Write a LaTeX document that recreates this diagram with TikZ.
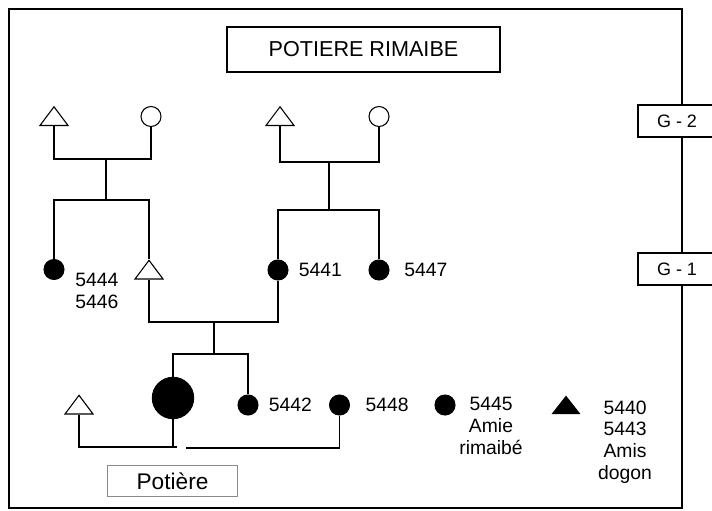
\documentclass[tikz,border=0pt]{standalone}
\usepackage{fontspec}
\setmainfont{Liberation Sans}
\usetikzlibrary{positioning,shapes.geometric}
\definecolor{boxgray}{HTML}{8A8A8A}
\tikzset{
  lnk/.style={line width=1pt, color=black},
  male/.style={isosceles triangle, shape border rotate=90, isosceles triangle stretches,
               draw, line width=0.8pt, inner sep=0pt, minimum height=14pt, minimum width=21pt,
               anchor=south},
  malek/.style={male, fill=black, minimum height=12.75pt, minimum width=20pt},
  fem/.style={circle, draw, line width=0.8pt, inner sep=0pt, minimum size=15pt},
  femk/.style={fem, fill=black},
  num/.style={font=\fontsize{14.5}{16.2}\selectfont, inner sep=0pt},
  ttl/.style={draw, line width=1pt, minimum width=204.75pt, minimum height=33.75pt,
              font=\fontsize{16.2}{19}\selectfont},
  gen/.style={draw, fill=white, line width=2pt, minimum width=58.5pt, minimum height=24pt,
              font=\fontsize{13.5}{16}\selectfont},
  potb/.style={draw=boxgray, line width=0.8pt, minimum width=98pt, minimum height=23.5pt,
               font=\fontsize{17}{20}\selectfont},
}
\begin{document}
\begin{tikzpicture}[x=0.75pt,y=-0.75pt]
  \clip (0,0) rectangle (712,510);
  \fill[white] (0,0) rectangle (712,510);
  \draw[lnk] (9,9) rectangle (682,508);

  % title and generation marks
  \node[ttl] (title) at (363.5,49.5) {POTIERE RIMAIBE};
  \node[gen] (g2) at (677,121) {G - 2};
  \node[gen] (g1) at (677,269) {G - 1};

  % G-2 (triangles placed by the middle of their base)
  \node[male] (gfA) at (54,126) {};
  \node[fem]  (gmA) at (151,116.5) {};
  \node[male] (gfB) at (280,126) {};
  \node[fem]  (gmB) at (379,116.5) {};

  % G-1
  \node[femk] (k5444) at (54,269.5) {};
  \node[male] (fath)  at (149,279.5) {};
  \node[femk] (k5441) at (278,270) {};
  \node[femk] (k5447) at (379,270) {};
  \node[num, anchor=west, align=left] (l5444) at (75,291) {5444\\5446};
  \node[num, right=7.5pt of k5441] (l5441) {5441};
  \node[num, right=11pt of k5447] (l5447) {5447};

  % ego's generation
  \node[male] (husb) at (79,414.5) {};
  \node[femk, minimum size=31pt] (pot) at (173,398) {};
  \node[femk] (k5442) at (248,405) {};
  \node[femk] (k5448) at (339.5,405) {};
  \node[femk] (k5445) at (445,405) {};
  \node[malek] (k5440) at (566,414) {};
  \node[num, right=7.5pt of k5442] (l5442) {5442};
  \node[num, right=11.5pt of k5448] (l5448) {5448};
  \node[num, align=center] (l5445) at (491,426) {5445\\Amie\\rimaibé};
  \node[num, align=center] (l5440) at (625,442) {5440\\5443\\Amis\\dogon};
  \node[potb] (potlab) at (172.5,481) {Potière};

  % left couple and children
  \coordinate (mA) at (106,159);
  \coordinate (sA) at (106,200);
  \draw[lnk] (gfA.south) |- (mA) -| (gmA.south);
  \draw[lnk] (mA) -- (sA);
  \draw[lnk] (k5444.north) |- (sA) -| (fath.north);

  % right couple and children
  \coordinate (mB) at (329,162);
  \coordinate (sB) at (329,210);
  \draw[lnk] (gfB.south) |- (mB) -| (gmB.south);
  \draw[lnk] (mB) -- (sB);
  \draw[lnk] (k5441.north) |- (sB) -| (k5447.north);

  % parents of the potter
  \coordinate (mC) at (214,322);
  \coordinate (sC) at (214,354);
  \draw[lnk] (fath.south) |- (mC) -| (k5441.south);
  \draw[lnk] (mC) -- (sC);
  \draw[lnk] (pot.north) |- (sC) -| (k5442.north);

  % potter's marriages
  \coordinate (hL) at (177,447);
  \coordinate (hR) at (186,448);
  \draw[lnk] (husb.south) |- (hL);
  \draw[lnk] (pot.south) -- (pot.south |- hL);
  \draw[lnk] (hR) -| (k5448.south);
\end{tikzpicture}
\end{document}
